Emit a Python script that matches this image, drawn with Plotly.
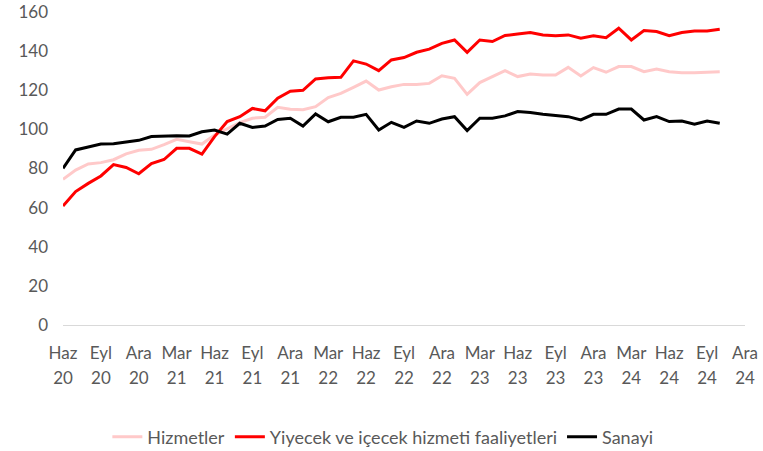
import plotly.graph_objects as go

# Monthly index values, June 2020 - October 2024
hizmetler = [74.5, 79.2, 82.3, 83.0, 84.5, 87.5, 89.3, 89.8, 92.2, 94.9,
             93.7, 92.5, 97.1, 100.5, 103.5, 105.7, 106.2, 111.3, 110.3, 110.0,
             111.6, 116.3, 118.4, 121.5, 124.7, 120.1, 121.8, 123.0, 123.0, 123.5,
             127.4, 126.1, 117.9, 123.9, 127.0, 130.0, 127.0, 128.3, 127.8, 127.8,
             131.7, 127.3, 131.6, 129.2, 132.1, 132.1, 129.5, 130.9, 129.5, 129.0,
             129.0, 129.3, 129.5]
yiyecek = [60.8, 68.2, 72.4, 76.2, 82.0, 80.5, 77.3, 82.5, 84.6, 90.3,
           90.3, 87.4, 96.3, 104.0, 106.5, 110.7, 109.5, 115.9, 119.5, 120.0,
           125.8, 126.4, 126.6, 135.0, 133.4, 130.0, 135.5, 136.7, 139.4, 141.0,
           144.0, 145.7, 139.4, 145.7, 144.9, 148.0, 148.7, 149.5, 148.3, 147.9,
           148.3, 146.6, 147.8, 146.9, 151.7, 145.7, 150.5, 150.0, 147.9, 149.5,
           150.3, 150.3, 151.2]
sanayi = [80.1, 89.5, 91.0, 92.5, 92.7, 93.5, 94.4, 96.3, 96.6, 96.8,
          96.6, 98.8, 99.7, 97.6, 103.1, 101.0, 101.7, 105.1, 105.7, 101.7,
          107.9, 103.9, 106.2, 106.2, 107.7, 99.7, 103.6, 101.0, 104.3, 103.1,
          105.3, 106.5, 99.4, 105.7, 105.7, 106.9, 109.1, 108.6, 107.7, 107.0,
          106.5, 104.8, 107.7, 107.7, 110.4, 110.4, 104.8, 106.5, 104.0, 104.3,
          102.6, 104.3, 103.1]

# Quarterly axis labels (month, two-digit year), June 2020 - December 2024
tick_months = ["Haz", "Eyl", "Ara", "Mar"] * 4 + ["Haz", "Eyl", "Ara"]
tick_years = ["20", "20", "20", "21", "21", "21", "21", "22", "22", "22",
              "22", "23", "23", "23", "23", "24", "24", "24", "24"]

series = [
    ("Hizmetler", hizmetler, "#FFC9C9"),
    ("Yiyecek ve içecek hizmeti faaliyetleri", yiyecek, "#FF0000"),
    ("Sanayi", sanayi, "#000000"),
]

n_points = len(sanayi)
tick_pos = [3 * k for k in range(len(tick_months))]
x_max = tick_pos[-1]

FONT = "Lato"
GREY = "#595959"

fig = go.Figure()
for name, vals, color in series:
    fig.add_trace(go.Scatter(
        x=list(range(n_points)), y=vals, name=name, mode="lines",
        line=dict(color=color, width=3),
    ))

# carrier trace for the secondary axis that holds the year labels
fig.add_trace(go.Scatter(x=[0, x_max], y=[None, None], xaxis="x2",
                         showlegend=False, hoverinfo="skip", mode="lines"))

fig.update_layout(
    width=763, height=451,
    margin=dict(l=63, r=18, t=12, b=126, autoexpand=False),
    plot_bgcolor="white", paper_bgcolor="white",
    font=dict(family=FONT, size=17, color=GREY),
    xaxis=dict(
        range=[0, x_max], tickmode="array", tickvals=tick_pos,
        ticktext=tick_months, showgrid=False, zeroline=False,
        showline=False, ticks="", ticklabelstandoff=16, tickangle=0,
        automargin=False,
        tickfont=dict(family=FONT, size=17, color=GREY),
    ),
    xaxis2=dict(
        range=[0, x_max], overlaying="x", side="bottom", tickmode="array",
        tickvals=tick_pos, ticktext=tick_years, showgrid=False,
        zeroline=False, showline=False, ticks="", ticklabelstandoff=41,
        tickangle=0, automargin=False,
        tickfont=dict(family=FONT, size=17, color=GREY),
    ),
    yaxis=dict(
        range=[0, 160], tickmode="array", tickvals=list(range(0, 161, 20)),
        showgrid=False, zeroline=True, zerolinecolor="#D9D9D9",
        zerolinewidth=1, showline=False, ticks="", ticklabelstandoff=14,
        automargin=False,
        tickfont=dict(family=FONT, size=17, color=GREY),
    ),
    legend=dict(
        orientation="h", x=0.469, xanchor="center",
        y=-0.358, yanchor="middle",
        font=dict(family=FONT, size=18, color=GREY),
        itemwidth=30, tracegroupgap=0,
    ),
    showlegend=True,
)

fig.write_html("out.html")
